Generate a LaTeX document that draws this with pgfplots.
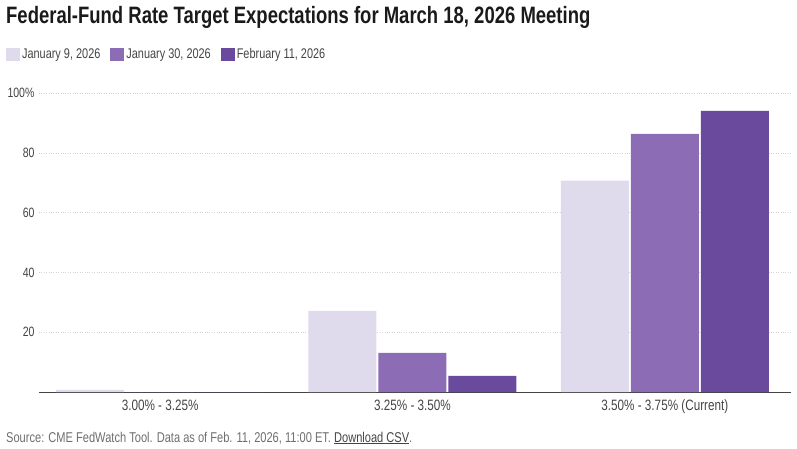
\documentclass[border=0pt]{standalone}
\usepackage{fontspec}
\setmainfont[FakeStretch=0.78]{Liberation Sans}
\usepackage{pgfplots}
\pgfplotsset{compat=1.18}

\definecolor{janA}{HTML}{DFDAEC}
\definecolor{janB}{HTML}{8C6CB5}
\definecolor{febA}{HTML}{6A4A9C}
\definecolor{titlecol}{HTML}{1A1A1A}
\definecolor{labcol}{HTML}{444444}
\definecolor{srccol}{HTML}{6E6E6E}

\begin{document}
\begin{tikzpicture}[x=1pt,y=1pt]
\useasboundingbox (0,0) rectangle (797,-449);

\node[anchor=base west, inner sep=0, text=titlecol,
      font=\fontsize{23.7}{26}\selectfont\bfseries] at (6,-24)
  {Federal-Fund Rate Target Expectations for March 18, 2026 Meeting};

\begin{axis}[
    at={(39pt,-392pt)}, anchor=south west,
    scale only axis, width=752pt, height=299pt,
    xmin=-0.48, xmax=2.5, ymin=0, ymax=100,
    ybar=2pt, bar width=68pt,
    separate axis lines,
    axis x line*=bottom, axis y line*=left,
    y axis line style={draw=none},
    x axis line style={draw=labcol, line width=1pt, -},
    tick style={draw=none},
    xtick={0,1,2},
    xticklabels={3.00\% - 3.25\%, 3.25\% - 3.50\%, 3.50\% - 3.75\% (Current)},
    ytick={20,40,60,80,100},
    yticklabels={20,40,60,80,100\%},
    ymajorgrids,
    grid style={dotted, line width=0.6pt, gray!35},
    ticklabel style={font=\fontsize{15}{17}\selectfont, text=labcol},
    yticklabel style={font=\fontsize{13.5}{16}\selectfont, xshift=-1pt},
    legend columns=3,
    legend style={at={(rel axis cs:-0.044,1.157)}, anchor=north west,
                  draw=none, fill=none, inner sep=0pt,
                  font=\fontsize{14}{16}\selectfont, text=labcol,
                  /tikz/every even column/.append style={column sep=8pt}},
    legend image code/.code={\path[#1] (0pt,-6.5pt) rectangle (14pt,6.5pt);},
  ]
  \addplot[fill=janA, draw=none] coordinates {(0,0.7) (1,27.1) (2,70.7)};
  \addplot[fill=janB, draw=none] coordinates {(0,0) (1,13.1) (2,86.3)};
  \addplot[fill=febA, draw=none] coordinates {(0,0) (1,5.4) (2,94.0)};
  \legend{{January 9, 2026}, {January 30, 2026}, {February 11, 2026}}
\end{axis}

\node[anchor=base west, inner sep=0, text=srccol,
      font=\fontsize{14.2}{16}\selectfont] at (6,-442)
  {Source: CME FedWatch Tool. Data as of Feb. 11, 2026, 11:00 ET. \textcolor{labcol}{\underline{Download CSV}}.};
\end{tikzpicture}
\end{document}
